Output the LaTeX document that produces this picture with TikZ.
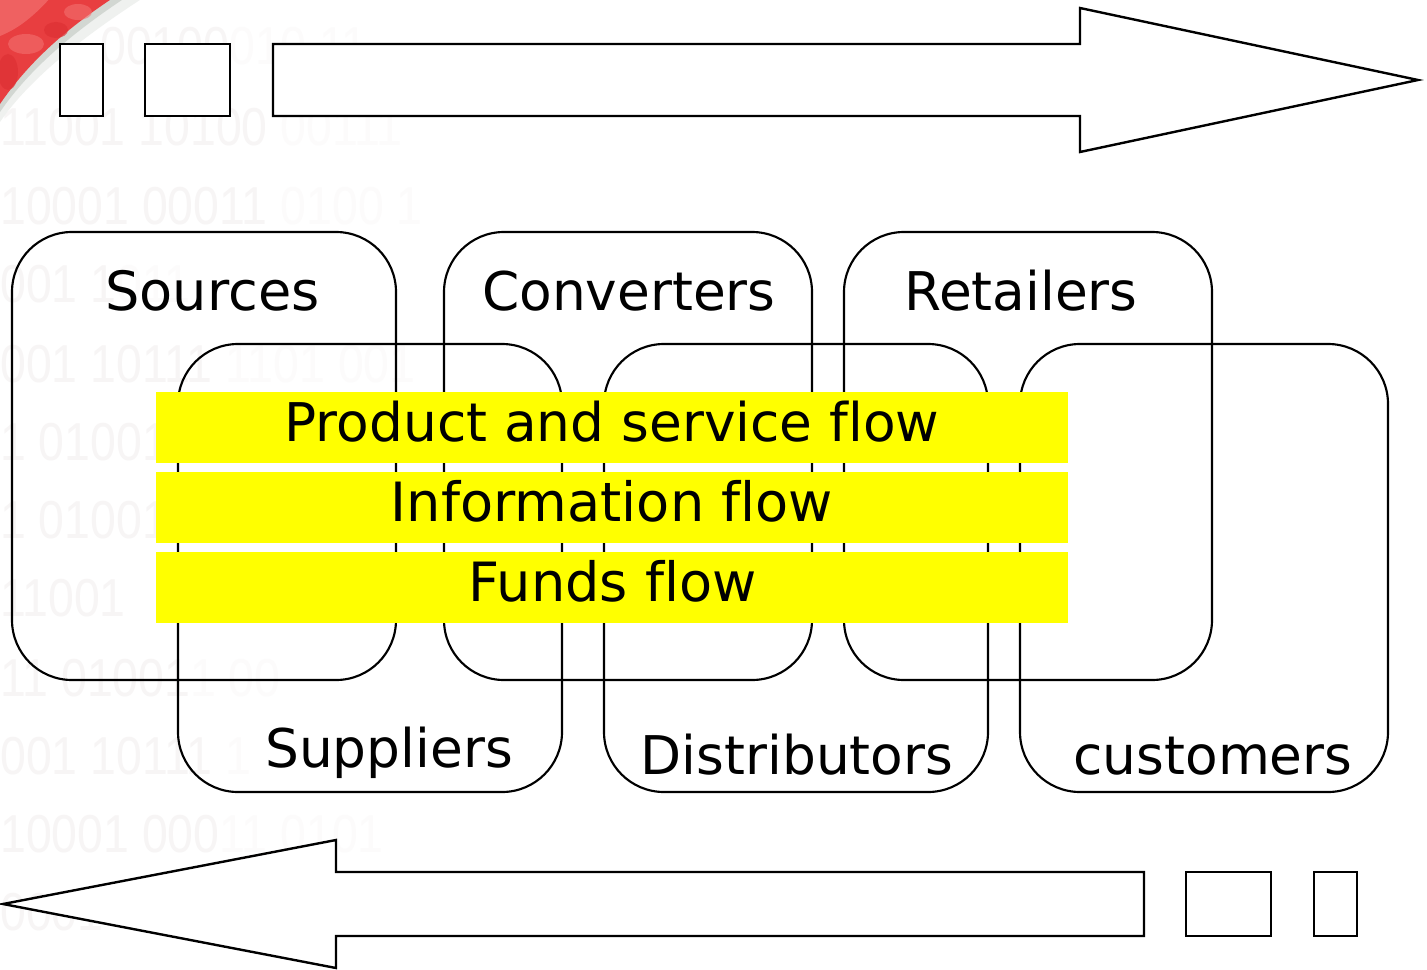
\documentclass[tikz,border=0pt]{standalone}
\usepackage{fontspec}
\setmainfont[RawFeature={-liga}]{DejaVu Sans}
\newfontfamily\bgfont{Liberation Sans}
\definecolor{bgdigit}{RGB}{247,245,245}
\definecolor{bgfade}{RGB}{252,251,251}
\definecolor{corner}{RGB}{232,62,64}
\definecolor{cornerlight}{RGB}{243,112,112}
\definecolor{cornerdark}{RGB}{222,48,52}
\definecolor{cornerhalo}{RGB}{190,198,190}
\definecolor{flowyellow}{RGB}{255,255,0}
\begin{document}
\begin{tikzpicture}[x=0.75pt,y=-0.75pt,
  groupbox/.style={draw=black,line width=1.6pt,rounded corners=45pt,minimum width=#1*0.75pt,minimum height=336pt,inner sep=0pt},
  flowbar/.style={fill=flowyellow,minimum width=684pt,minimum height=53.5pt,inner sep=0pt},
  plainbox/.style={draw=black,fill=white,line width=2pt,inner sep=0pt},
  bigarrow/.style={draw=black,fill=white,line width=1.8pt,line join=miter},
  lab/.style={font=\fontsize{40pt}{46pt}\selectfont,anchor=base,inner sep=0pt},
  labwide/.style={font=\fontsize{40.6pt}{46pt}\selectfont,anchor=base,inner sep=0pt},
  bgtext/.style={font=\bgfont\fontsize{40pt}{46pt}\selectfont,text=bgdigit,anchor=base west,inner sep=0pt,xscale=0.87}]
\useasboundingbox (0,0) rectangle (1427,970);
\fill[white] (0,0) rectangle (1427,970);
% faint binary background
\node[bgtext] (d1) at (100,65) {00100{\color{bgfade}010 11}};
\node[bgtext] (d2) at (0,146) {11001 10100 {\color{bgfade}00111}};
\node[bgtext] (d3) at (0,224) {10001 00011 {\color{bgfade}0100 1}};
\node[bgtext] (d4) at (0,302) {001 1{\color{bgfade}011}};
\node[bgtext] (d5) at (0,382) {001 10111 {\color{bgfade}1101 001}};
\node[bgtext] (d6) at (0,460) {1 01001};
\node[bgtext] (d7) at (0,538) {1 01001};
\node[bgtext] (d8) at (0,616) {11001};
\node[bgtext] (d9) at (0,696) {11 01001{\color{bgfade}1 00}};
\node[bgtext] (d10) at (0,774) {001 10111 {\color{bgfade}1}};
\node[bgtext] (d11) at (0,852) {10001 000{\color{bgfade}11 0101}};
\node[bgtext] (d12) at (0,930) {0001};
% red corner
\begin{scope}
\clip (0,0) rectangle (200,150);
\fill[cornerhalo!25] (0,122) .. controls (30,78) and (84,36) .. (146,-4) -- (0,-4) -- cycle;
\fill[cornerhalo!70] (0,112) .. controls (30,68) and (76,30) .. (128,-4) -- (0,-4) -- cycle;
\fill[corner] (0,104) .. controls (30,60) and (70,26) .. (116,-4) -- (0,-4) -- cycle;
\fill[cornerlight,opacity=.7] (0,36) .. controls (20,28) and (36,14) .. (52,-4) -- (0,-4) -- cycle;
\fill[cornerlight,opacity=.6] (26,44) ellipse[x radius=18,y radius=10];
\fill[cornerlight,opacity=.6] (78,12) ellipse[x radius=14,y radius=8];
\fill[cornerdark,opacity=.7] (8,72) ellipse[x radius=10,y radius=18];
\fill[cornerdark,opacity=.7] (56,30) ellipse[x radius=12,y radius=8];
\end{scope}
% group boxes
\node[groupbox=384] (sources) at (204,456) {};
\node[groupbox=368] (converters) at (628,456) {};
\node[groupbox=368] (retailers) at (1028,456) {};
\node[groupbox=384] (suppliers) at (370,568) {};
\node[groupbox=384] (distributors) at (796,568) {};
\node[groupbox=368] (customers) at (1204,568) {};
% labels
\node[labwide] (tsources) at (212.5,310) {Sources};
\node[lab] (tconverters) at (629,310) {Converters};
\node[lab] (tretailers) at (1021,310) {Retailers};
\node[lab] (tsuppliers) at (389,767) {Suppliers};
\node[lab] (tdistributors) at (797,774) {Distributors};
\node[lab] (tcustomers) at (1213,774) {customers};
% yellow bars
\node[flowbar] (bar1) at (612,427.5) {};
\node[flowbar] (bar2) at (612,507.5) {};
\node[flowbar] (bar3) at (612,587.5) {};
\node[lab] (tproduct) at (612,441) {Product and service flow};
\node[labwide] (tinfo) at (612,521) {Information flow};
\node[labwide] (tfunds) at (612.5,601) {Funds flow};
% top arrow row
\node[plainbox,minimum width=32.25pt,minimum height=54pt] (ta) at (81.5,80) {};
\node[plainbox,minimum width=63.75pt,minimum height=54pt] (tb) at (187.5,80) {};
\draw[bigarrow] (273,44) -- (1080,44) -- (1080,8) -- (1418,80) -- (1080,152) -- (1080,116) -- (273,116) -- cycle;
% bottom arrow row
\draw[bigarrow] (1144,872) -- (336,872) -- (336,840) -- (3,904) -- (336,968) -- (336,936) -- (1144,936) -- cycle;
\node[plainbox,minimum width=63.75pt,minimum height=48pt] (bb) at (1228.5,904) {};
\node[plainbox,minimum width=32.25pt,minimum height=48pt] (ba) at (1335.5,904) {};
\end{tikzpicture}
\end{document}
